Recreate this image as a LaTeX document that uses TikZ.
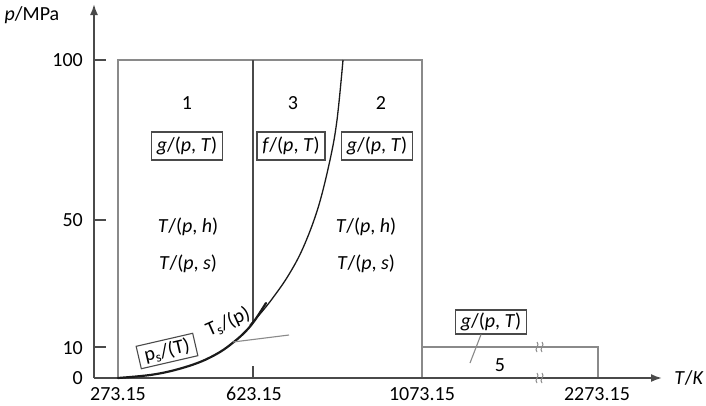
\documentclass[tikz,border=0pt]{standalone}
\usepackage{fontspec}
\setmainfont{Carlito}
\usetikzlibrary{arrows.meta}
\definecolor{axisgray}{HTML}{4A4A4A}
\definecolor{framegray}{HTML}{8A8A8A}
\definecolor{curveblack}{HTML}{1A1A1A}
\tikzset{
  axisline/.style={draw=axisgray, line width=1.8pt},
  frameline/.style={draw=framegray, line width=1.4pt},
  darkline/.style={draw=axisgray, line width=1.6pt},
  lbl/.style={font=\fontsize{20}{22}\selectfont, inner sep=0pt},
  fnbox/.style={lbl, draw=axisgray, line width=1.1pt, minimum width=71pt, minimum height=28pt, inner xsep=4pt},
  leader/.style={draw=framegray, line width=1.1pt},
  breakmark/.style={draw=framegray, line width=1pt},
}
\begin{document}
\begin{tikzpicture}[x=1pt,y=-1pt]
\useasboundingbox (0,0) rectangle (706,405);
% coordinates
\coordinate (O) at (94,378);
\coordinate (Ytop) at (94,4);
\coordinate (Xend) at (662,378);
\coordinate (A) at (118,378);
\coordinate (B) at (118,60);
\coordinate (C) at (422,60);
\coordinate (D) at (422,378);
\coordinate (V1) at (253,60);
\coordinate (V2) at (253,322);
\coordinate (Vt1) at (253,366);
\coordinate (Vt2) at (253,378);
\coordinate (R5a) at (422,347);
\coordinate (R5b) at (598,347);
\coordinate (R5c) at (598,378);
% frames
\draw[frameline] (A) -- (B) -- (C) -- (D);
\draw[frameline] (R5a) -- (R5b) -- (R5c);
\draw[darkline] (V1) -- (V2);
\draw[darkline] (Vt1) -- (Vt2);
% axes
\draw[axisline, -{Latex[length=11pt,width=8pt]}] (O) -- (Ytop);
\draw[axisline, -{Latex[length=11pt,width=8pt]}] (O) -- (Xend);
% y ticks
\foreach \yy/\nm in {60/t100,220/t50,347/t10}{
  \coordinate (\nm a) at (94,\yy);
  \coordinate (\nm b) at (106,\yy);
  \draw[axisline, line width=1.2pt] (\nm a) -- (\nm b);
}
% break marks (small vertical squiggles)
\foreach \bx/\by in {537/347,542/347,537/378,542/378}{
  \draw[breakmark] (\bx,\by-5) .. controls (\bx+3.5,\by-2) and (\bx-3.5,\by+2) .. (\bx,\by+5);
}
% saturation curve (thick)
\draw[curveblack, line width=2.2pt, line cap=round] plot[smooth, tension=0.6] coordinates
  {(118,378) (150,375) (175,370) (200,362) (220,352) (235,341) (246,331) (255,320) (266,303)};
% boundary 2-3 curve (thin)
\draw[curveblack, line width=1.3pt] plot[smooth, tension=0.6] coordinates
  {(250,325) (260,314) (272,299) (288,276) (303,248) (318,208) (330,160) (337,120) (343,60)};
% leader for Ts
\coordinate (Ls) at (233,342);
\coordinate (Le) at (289,335);
\draw[leader] (Ls) -- (Le);
% axis labels
\node[lbl] (plab) at (32,15) {\textit{p}/MPa};
\node[lbl] (tlab) at (689,378) {\textit{T}/\textit{K}};
\node[lbl, anchor=east] (y100) at (83,60) {100};
\node[lbl, anchor=east] (y50) at (83,220) {50};
\node[lbl, anchor=east] (y10) at (83,348) {10};
\node[lbl, anchor=east] (y0) at (83,378) {0};
\node[lbl] (x1) at (118,394) {273.15};
\node[lbl] (x2) at (254,394) {623.15};
\node[lbl] (x3) at (422,394) {1073.15};
\node[lbl] (x4) at (597,394) {2273.15};
% region labels
\node[lbl] (r1) at (187,103) {1};
\node[lbl] (r3) at (293,103) {3};
\node[lbl] (r2) at (381,103) {2};
\node[fnbox] (g1) at (187,146) {\textit{g}/(\textit{p}, \textit{T})};
\node[fnbox, minimum width=68pt] (f3) at (291,146) {\textit{f}/(\textit{p}, \textit{T})};
\node[fnbox] (g2) at (377,146) {\textit{g}/(\textit{p}, \textit{T})};
\node[lbl] (h1) at (188,227) {\textit{T}/(\textit{p}, \textit{h})};
\node[lbl] (s1) at (188,264) {\textit{T}/(\textit{p}, \textit{s})};
\node[lbl] (h2) at (366,227) {\textit{T}/(\textit{p}, \textit{h})};
\node[lbl] (s2) at (366,264) {\textit{T}/(\textit{p}, \textit{s})};
% saturation labels
\node[fnbox, minimum width=58pt, minimum height=23pt, inner xsep=3pt, rotate=13] (ps) at (167,351) {p\textsubscript{s}/(T)};
\node[lbl, rotate=24] (ts) at (228,322) {T\textsubscript{s}/(p)};
% region 5
\node[fnbox, minimum height=24pt] (g5) at (491,322) {\textit{g}/(\textit{p}, \textit{T})};
\coordinate (L5) at (470,363);
\draw[leader] ([xshift=-10pt]g5.south) -- (L5);
\node[lbl] (r5) at (500,365) {5};
\end{tikzpicture}
\end{document}
